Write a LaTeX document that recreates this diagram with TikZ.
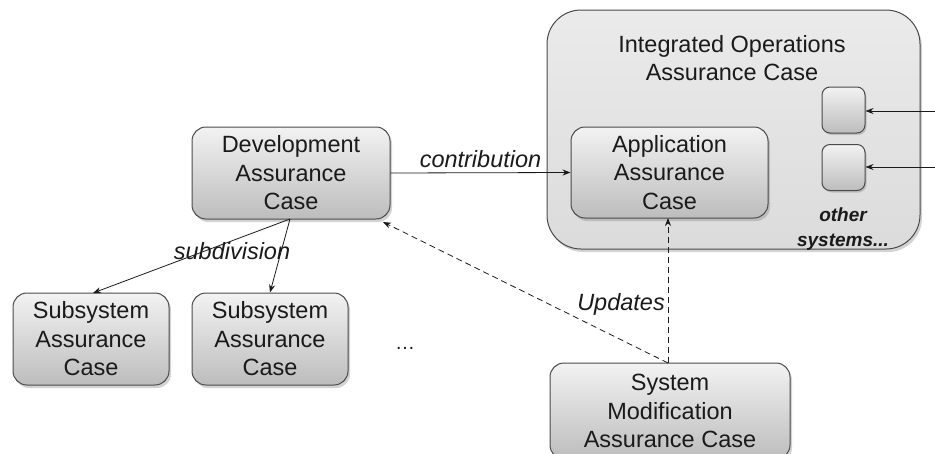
\documentclass[tikz,border=0pt]{standalone}
\usepackage{fontspec}
\setmainfont{Liberation Sans}
\usetikzlibrary{shadows,arrows.meta}

\definecolor{edge}{HTML}{4A4A4A}
\definecolor{ink}{HTML}{1A1A1A}

\tikzset{
  casebox/.style={draw=edge, line width=1pt, rounded corners=14pt,
    top color=black!5, bottom color=black!26, align=center, text=ink,
    font=\fontsize{23.5}{28.5}\selectfont,
    drop shadow={shadow xshift=2pt, shadow yshift=-3pt, opacity=0.35}},
  groupbox/.style={draw=edge, line width=1pt, rounded corners=34pt,
    top color=black!8, bottom color=black!14,
    drop shadow={shadow xshift=2pt, shadow yshift=-3pt, opacity=0.35}},
  slotbox/.style={draw=edge, line width=1pt, rounded corners=8pt,
    top color=black!5, bottom color=black!26,
    minimum width=43pt, minimum height=46pt, inner sep=0pt,
    drop shadow={shadow xshift=1.5pt, shadow yshift=-2pt, opacity=0.35}},
  link/.style={draw=ink, line width=0.8pt, -{Stealth[length=8pt,width=6pt]}},
  update/.style={link, dash pattern=on 6pt off 4pt},
  linklabel/.style={font=\fontsize{23.5}{28.5}\selectfont\itshape, text=ink, inner sep=2pt},
}

\begin{document}
\begin{tikzpicture}[x=1pt,y=-1pt]
  \useasboundingbox (0,0) rectangle (935,453);

  % operations-level container
  \node[groupbox, minimum width=373pt, minimum height=239pt] (ops) at (733.5,129.5) {};
  \node[align=center, text=ink, font=\fontsize{23.5}{28.5}\selectfont] (opstitle) at (732,58) {Integrated Operations\\Assurance Case};

  % assurance cases
  \node[casebox, minimum width=198pt, minimum height=92pt] (dev) at (291,173) {Development\\Assurance\\Case};
  \node[casebox, minimum width=197pt, minimum height=91pt] (app) at (669.5,172.5) {Application\\Assurance\\Case};
  \node[casebox, minimum width=156pt, minimum height=92pt] (sub1) at (91,339) {Subsystem\\Assurance\\Case};
  \node[casebox, minimum width=156pt, minimum height=92pt] (sub2) at (270,339) {Subsystem\\Assurance\\Case};
  \node[casebox, minimum width=240pt, minimum height=96pt] (mod) at (670,411) {System\\Modification\\Assurance Case};

  % slots for the other systems
  \node[slotbox] (other1) at (843.5,110) {};
  \node[slotbox] (other2) at (843.5,167.5) {};
  \node[align=center, text=ink, font=\fontsize{19}{25}\selectfont\bfseries\itshape] (othertxt) at (843,229) {other\\systems...};

  \node[text=ink, font=\fontsize{20}{24}\selectfont] (more) at (405,348) {\dots};

  % connectors
  \draw[link] (dev.east) -- node[linklabel, above=3pt] (contrib) {contribution} (app.west);
  \coordinate (devfoot) at (290,219);
  \draw[link] (devfoot) -- (93,293) coordinate (sub1top);
  \draw[link] (devfoot) -- (sub2.north);
  \node[linklabel] (subdiv) at (232,251) {subdivision};

  \coordinate (modtop) at (668,363);
  \draw[update] (modtop) -- (383,222) coordinate (devcorner);
  \draw[update] (modtop) -- (668,218) coordinate (appfoot);
  \node[linklabel, anchor=east] (upd) at (667,304) {Updates};

  \coordinate (in1) at (935,111);
  \coordinate (in2) at (935,167);
  \draw[link] (in1) -- (other1.east |- in1);
  \draw[link] (in2) -- (other2.east |- in2);
\end{tikzpicture}
\end{document}
